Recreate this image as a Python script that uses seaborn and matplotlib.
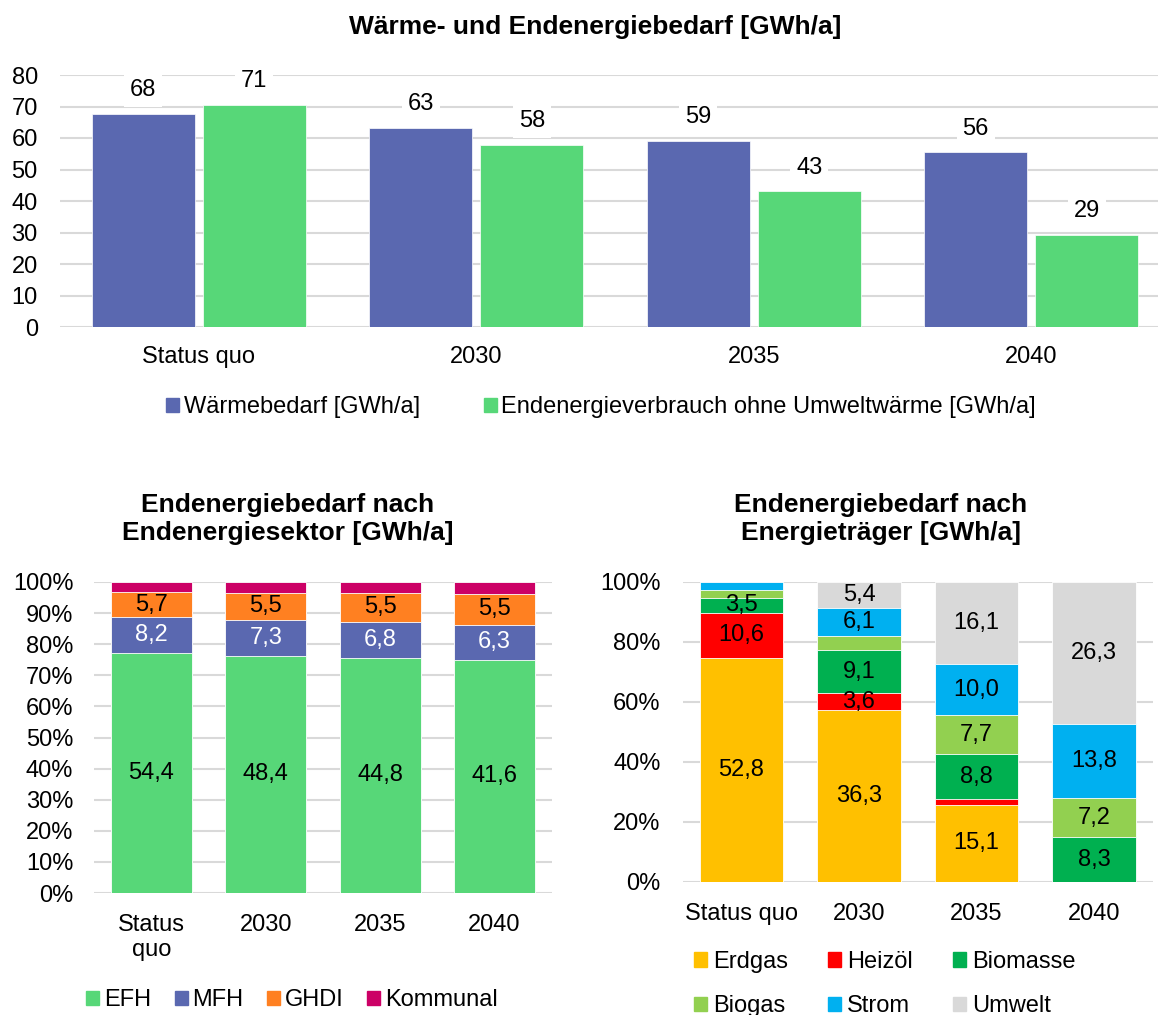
import matplotlib
matplotlib.use("Agg")
import matplotlib.pyplot as plt
from matplotlib.patches import Patch
import numpy as np
import pandas as pd
import seaborn as sns

# --- data -------------------------------------------------------------
years = ["Status quo", "2030", "2035", "2040"]
waermebedarf = [67.6, 63.3, 59.1, 55.5]
endenergie = [70.6, 57.8, 43.1, 29.3]
top_series = ["Wärmebedarf [GWh/a]", "Endenergieverbrauch ohne Umweltwärme [GWh/a]"]

sektor_years = ["Status\nquo", "2030", "2035", "2040"]
sektor_names = ["EFH", "MFH", "GHDI", "Kommunal"]
efh = [54.4, 48.4, 44.8, 41.6]
mfh = [8.2, 7.3, 6.8, 6.3]
ghdi = [5.7, 5.5, 5.5, 5.5]
kommunal = [2.3, 2.2, 2.1, 2.1]

traeger_years = ["Status quo", "2030", "2035", "2040"]
traeger_names = ["Erdgas", "Heizöl", "Biomasse", "Biogas", "Strom", "Umwelt"]
erdgas = [52.8, 36.3, 15.1, 0.0]
heizoel = [10.6, 3.6, 1.1, 0.0]
biomasse = [3.5, 9.1, 8.8, 8.3]
biogas = [1.9, 2.9, 7.7, 7.2]
strom = [1.8, 6.1, 10.0, 13.8]
umwelt = [0.0, 5.4, 16.1, 26.3]

# --- style ------------------------------------------------------------
sns.set_style("white")
plt.rcParams["font.family"] = ["Liberation Sans", "DejaVu Sans"]
plt.rcParams["font.size"] = 17
plt.rcParams["text.color"] = "black"
plt.rcParams["xtick.color"] = "black"
plt.rcParams["ytick.color"] = "black"

BLUE = "#5A68B0"
GREEN = "#57D778"
ORANGE = "#FF8021"
MAGENTA = "#CC0066"
GRID = "#D9D9D9"

W, H = 1158, 1015
fig = plt.figure(figsize=(W / 100, H / 100), dpi=100)


def px_axes(left, top, right, bottom):
    return fig.add_axes([left / W, 1 - bottom / H, (right - left) / W, (bottom - top) / H])


def style_axes(ax, xpad, ypad):
    for s in ax.spines.values():
        s.set_visible(False)
    ax.yaxis.grid(True, color=GRID, lw=1.5)
    ax.xaxis.grid(False)
    ax.set_axisbelow(True)
    ax.tick_params(axis="x", length=0, pad=xpad, labelsize=17, labelcolor="black")
    ax.tick_params(axis="y", length=0, pad=ypad, labelsize=17, labelcolor="black")
    ax.set_xlabel("")
    ax.set_ylabel("")


def fmt(v):
    return f"{v:.1f}".replace(".", ",")


# --- top: grouped bars ------------------------------------------------
ax1 = px_axes(60, 75, 1170, 327)
df_top = pd.DataFrame({
    "Jahr": years * 2,
    "Reihe": [top_series[0]] * 4 + [top_series[1]] * 4,
    "Wert": waermebedarf + endenergie,
})
sns.barplot(data=df_top, x="Jahr", y="Wert", hue="Reihe", palette=[BLUE, GREEN],
            width=0.8, gap=0.07, saturation=1, legend=False, ax=ax1,
            edgecolor="white", linewidth=0.5)
ax1.set_ylim(0, 80)
ax1.set_yticks(range(0, 81, 10))
ax1.set_xlim(-0.5, 3.5)
style_axes(ax1, 14, 16)
for cont in ax1.containers:
    for bar in cont:
        h = bar.get_height()
        ax1.annotate(f"{h:.0f}", (bar.get_x() + bar.get_width() / 2, h),
                     xytext=(0, 17), textcoords="offset points",
                     ha="center", va="center", fontsize=17, color="black",
                     bbox=dict(boxstyle="square,pad=0.25", fc="white", ec="none"))

fig.text(595.5 / W, 1 - 27 / H, "Wärme- und Endenergiebedarf [GWh/a]",
         ha="center", va="center", fontsize=19, fontweight="bold", color="black")

fig.legend(handles=[Patch(color=BLUE, label=top_series[0]),
                    Patch(color=GREEN, label=top_series[1])],
           loc="center", bbox_to_anchor=(601 / W, 1 - 407 / H), ncol=2,
           frameon=False, fontsize=17, handlelength=0.55, handleheight=0.55,
           handletextpad=0.2, columnspacing=2.7)


# --- stacked 100 % bars -----------------------------------------------
def stacked_percent(ax, cats, series, colors, label_colors, min_label):
    data = np.array(series, dtype=float)
    shares = data / data.sum(axis=0) * 100
    tops = np.cumsum(shares, axis=0)
    for i in range(len(series) - 1, -1, -1):
        sns.barplot(x=cats, y=tops[i], color=colors[i], width=0.71, saturation=1,
                    ax=ax, edgecolor="white", linewidth=0.6)
    for i in range(len(series)):
        if label_colors[i] is None:
            continue
        for j in range(len(cats)):
            if data[i, j] >= min_label:
                ax.text(j, tops[i, j] - shares[i, j] / 2, fmt(data[i, j]),
                        ha="center", va="center", fontsize=17, color=label_colors[i])


ax2 = px_axes(94.2, 582, 551.8, 893)
stacked_percent(ax2, sektor_years, [efh, mfh, ghdi, kommunal],
                [GREEN, BLUE, ORANGE, MAGENTA], ["black", "white", "black", None], 0)
ax2.set_ylim(0, 100)
ax2.set_yticks(range(0, 101, 10))
ax2.set_yticklabels([f"{t}%" for t in range(0, 101, 10)])
ax2.set_xlim(-0.5, 3.5)
style_axes(ax2, 15, 15)
fig.text(288 / W, 1 - 519 / H, "Endenergiebedarf nach\nEndenergiesektor [GWh/a]",
         ha="center", va="center", fontsize=19, fontweight="bold", linespacing=1.2,
         color="black")
fig.legend(handles=[Patch(color=c, label=n) for c, n in
                    zip([GREEN, BLUE, ORANGE, MAGENTA], sektor_names)],
           loc="center", bbox_to_anchor=(292 / W, 1 - 1000 / H), ncol=4,
           frameon=False, fontsize=17, handlelength=0.55, handleheight=0.55,
           handletextpad=0.2, columnspacing=1.0)

traeger_colors = ["#FFC000", "#FF0000", "#00B050", "#92D050", "#00B0F0", "#D9D9D9"]
ax3 = px_axes(682.7, 582, 1152.8, 882)
stacked_percent(ax3, traeger_years, [erdgas, heizoel, biomasse, biogas, strom, umwelt],
                traeger_colors, ["black"] * 6, 3.0)
ax3.set_ylim(0, 100)
ax3.set_yticks(range(0, 101, 20))
ax3.set_yticklabels([f"{t}%" for t in range(0, 101, 20)])
ax3.set_xlim(-0.5, 3.5)
style_axes(ax3, 15, 16)
fig.text(881 / W, 1 - 519 / H, "Endenergiebedarf nach\nEnergieträger [GWh/a]",
         ha="center", va="center", fontsize=19, fontweight="bold", linespacing=1.2,
         color="black")
# legend filled row by row: three entries per row
traeger_handles = [Patch(color=c, label=n) for c, n in zip(traeger_colors, traeger_names)]
row_major = [traeger_handles[k] for k in (0, 3, 1, 4, 2, 5)]
fig.legend(handles=row_major,
           loc="center", bbox_to_anchor=(885 / W, 1 - 984 / H), ncol=3,
           frameon=False, fontsize=17, handlelength=0.55, handleheight=0.55,
           handletextpad=0.25, columnspacing=1.7, labelspacing=0.95)

fig.savefig("out.png", dpi=100)
